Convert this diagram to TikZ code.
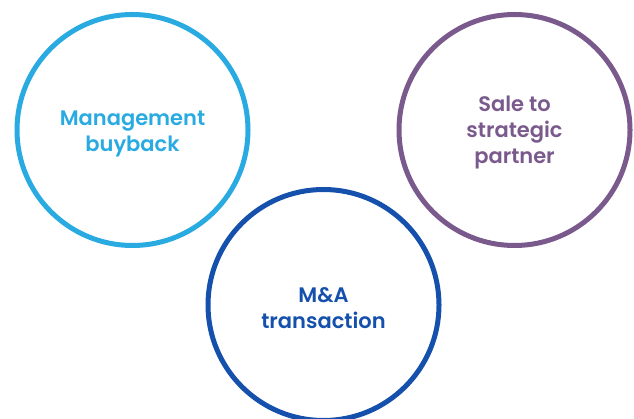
\documentclass[tikz,border=0pt]{standalone}
\usepackage{fontspec}
\setmainfont{Poppins}[BoldFont={Poppins SemiBold}]
\usepackage{xcolor}
\usepackage{tikz}
\usetikzlibrary{positioning, calc}
\definecolor{mbocyan}{RGB}{41,171,226}
\definecolor{salepurple}{RGB}{122,90,140}
\definecolor{mnablue}{RGB}{20,80,172}
\tikzset{
    option/.style = {circle, draw, line width=5pt, minimum size=231pt, inner sep=0pt},
    caption/.style = {align=center, inner sep=0pt, font=\bfseries\fontsize{21}{26}\selectfont},
    mbo/.style = {option, draw=mbocyan},
    sale/.style = {option, draw=salepurple},
    mna/.style = {option, draw=mnablue},
}

\begin{document}
\begin{tikzpicture}[x=1pt,y=1pt]
        \useasboundingbox (0,0) rectangle (634,418);
        \coordinate (input) at (132.5,288);
        \node (a) [mbo] at (input) {};
        \node (b) [sale, right=146pt of a] {};
        \node (c) [mna] at (323.5,113) {};
        \node (a text) [caption, text=mbocyan] at ([yshift=-4pt]a.center) {Management\\buyback};
        \node (b text) [caption, text=salepurple] at ([yshift=-3pt]b.center) {Sale to\\strategic\\partner};
        \node (c text) [caption, text=mnablue] at ([yshift=-3pt]c.center) {M\&A\\transaction};
        \end{tikzpicture}
\end{document}
